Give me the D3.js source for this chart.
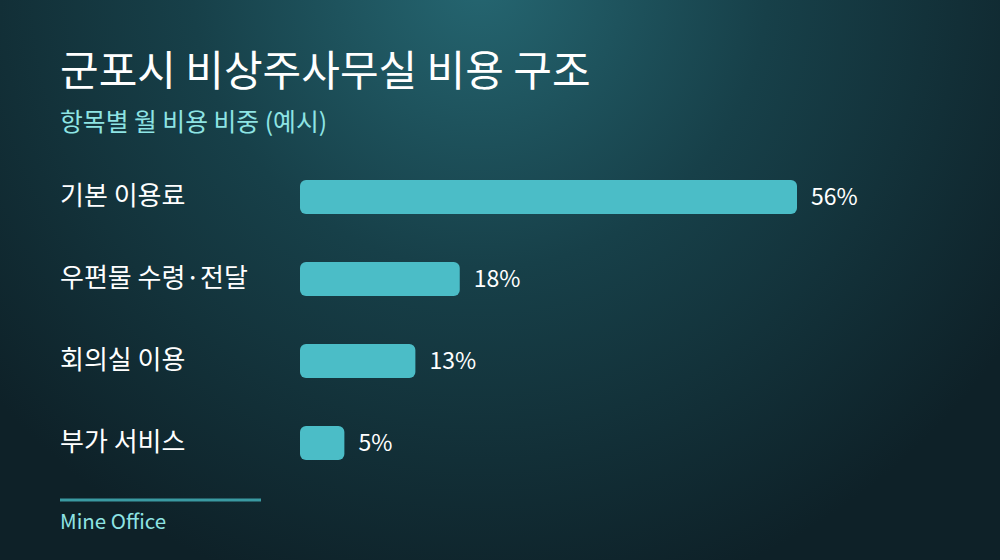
<!DOCTYPE html>
<html>
<head>
<meta charset="utf-8">
<script src="https://cdn.jsdelivr.net/npm/d3@7"></script>
<style>
  html, body { margin: 0; padding: 0; background: #0f2229; }
  svg { display: block; }
</style>
</head>
<body>
<div id="chart"></div>
<script>
"use strict";

// data
var categories = ["기본 이용료", "우편물 수령·전달", "회의실 이용", "부가 서비스"];
var shares = [56, 18, 13, 5];
var valueLabels = ["56%", "18%", "13%", "5%"];

var titleText = "군포시 비상주사무실 비용 구조",
	subtitleText = "항목별 월 비용 비중 (예시)",
	sourceText = "Mine Office";

// layout
var width = 1000, height = 560,
	barLeft = 300, barRight = 797,
	firstBarTop = 180, rowStep = 82, barHeight = 34;

var font = "'Noto Sans CJK KR', 'Noto Sans', sans-serif";

var svg = d3.select("#chart").append("svg")
	.attr("width", width)
	.attr("height", height);

// background gradient
var defs = svg.append("defs");
var bg = defs.append("radialGradient")
	.attr("id", "bg")
	.attr("gradientUnits", "userSpaceOnUse")
	.attr("cx", 480).attr("cy", -20)
	.attr("r", 640);
bg.append("stop").attr("offset", "0%").attr("stop-color", "#256671");
bg.append("stop").attr("offset", "45%").attr("stop-color", "#174049");
bg.append("stop").attr("offset", "100%").attr("stop-color", "#0e2128");

svg.append("rect")
	.attr("width", width)
	.attr("height", height)
	.attr("fill", "url(#bg)");

// titles
svg.append("text")
	.attr("x", 60).attr("y", 86)
	.style("font-family", font)
	.style("font-size", "42px")
	.style("font-weight", 400)
	.style("fill", "#ffffff")
	.text(titleText);

svg.append("text")
	.attr("x", 60).attr("y", 131)
	.style("font-family", font)
	.style("font-size", "24.8px")
	.style("fill", "#8ee4e4")
	.text(subtitleText);

// scales
var x = d3.scaleLinear()
	.domain([0, d3.max(shares)])
	.range([barLeft, barRight]);

var y = d3.scalePoint()
	.domain(categories)
	.range([firstBarTop, firstBarTop + rowStep * (categories.length - 1)]);

var rows = svg.selectAll("g.row")
	.data(categories)
	.enter().append("g")
	.attr("class", "row");

rows.append("rect")
	.attr("x", x(0))
	.attr("y", function(d){ return y(d); })
	.attr("width", function(d, i){ return x(shares[i]) - x(0); })
	.attr("height", barHeight)
	.attr("rx", 6)
	.attr("fill", "#4bbdc7");

rows.append("text")
	.attr("x", 60)
	.attr("y", function(d){ return y(d) + barHeight / 2; })
	.attr("dy", "0.3em")
	.style("font-family", font)
	.style("font-size", "26px")
	.style("fill", "#ffffff")
	.text(function(d){ return d; });

rows.append("text")
	.attr("x", function(d, i){ return x(shares[i]) + 14; })
	.attr("y", function(d){ return y(d) + barHeight / 2; })
	.attr("dy", "0.35em")
	.style("font-family", font)
	.style("font-size", "23px")
	.style("fill", "#ffffff")
	.text(function(d, i){ return valueLabels[i]; });

// footer
svg.append("line")
	.attr("x1", 60).attr("x2", 261)
	.attr("y1", 500).attr("y2", 500)
	.attr("stroke", "#3a9aa2")
	.attr("stroke-width", 3);

svg.append("text")
	.attr("x", 60).attr("y", 529)
	.style("font-family", font)
	.style("font-size", "20.5px")
	.style("fill", "#8ee4e4")
	.text(sourceText);
</script>
</body>
</html>
